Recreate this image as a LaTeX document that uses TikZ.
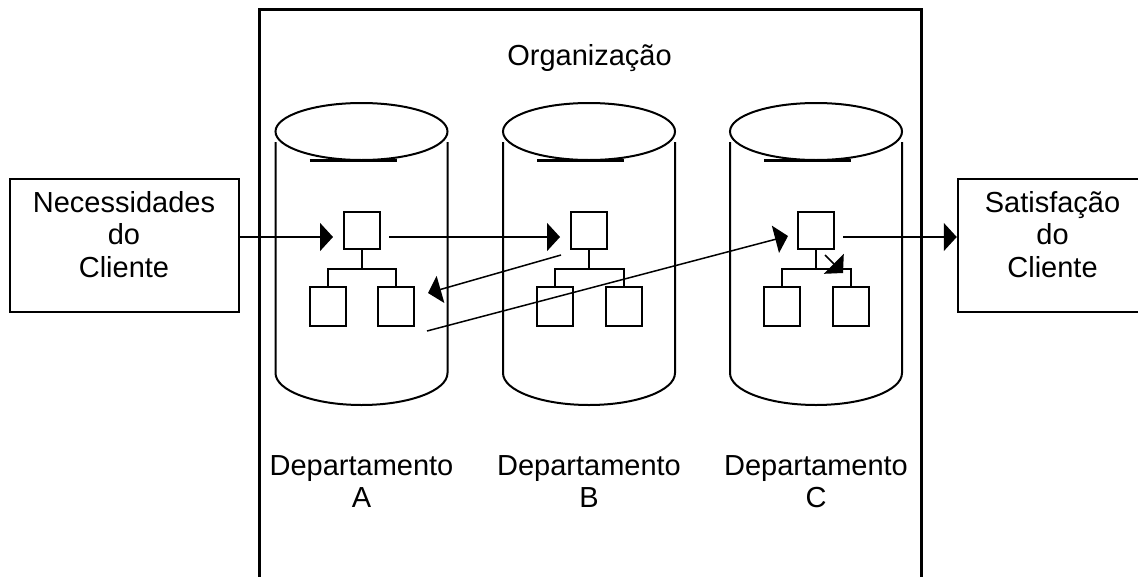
\documentclass[tikz,border=0pt]{standalone}
\usepackage{fontspec}
\setmainfont{Liberation Sans}
\usetikzlibrary{arrows.meta,calc}
\begin{document}
\begin{tikzpicture}[x=1pt,y=-1pt,
  lbl/.style={anchor=base,inner sep=0pt,font=\fontsize{29}{32.5}\selectfont},
  bigbox/.style={draw,line width=2.5pt,minimum width=229pt,minimum height=133pt,inner sep=0pt},
  orgbox/.style={draw,line width=3pt,minimum width=662pt,minimum height=600pt,anchor=north west,inner sep=0pt},
  cyl/.style={line width=2pt},
  cylmark/.style={line width=3pt},
  unit/.style={draw,line width=2pt,minimum width=36pt,minimum height=37pt,inner sep=0pt},
  subunit/.style={draw,line width=2pt,minimum width=36pt,minimum height=39pt,inner sep=0pt},
  tree/.style={line width=2pt},
  conn/.style={line width=1.5pt,-{Triangle[length=13pt,width=28pt]}},
  plain/.style={line width=1.5pt}
]
\useasboundingbox (0,0) rectangle (1138,576);
\clip (0,0) rectangle (1138,576);
\fill[white] (0,0) rectangle (1138,576);

% organisation frame
\node[orgbox] (org) at (258,8) {};
\node[lbl] (orgt) at (589.5,65) {Organização};

% outside boxes
\node[bigbox] (nec) at (124.5,245.5) {};
\node[lbl] (nec1) at (124,212) {Necessidades};
\node[lbl] (nec2) at (124,244.5) {do};
\node[lbl] (nec3) at (124,277) {Cliente};

\node[bigbox,minimum width=190pt] (sat) at (1053,245.5) {};
\node[lbl] (sat1) at (1052.5,212) {Satisfação};
\node[lbl] (sat2) at (1052.5,244.5) {do};
\node[lbl] (sat3) at (1052.5,277) {Cliente};

% cylinders and org charts
\foreach \cx/\n/\L in {361.5/A/A,589/B/B,816/C/C}{
  \draw[cyl] (\cx,131.5) ellipse [x radius=86pt,y radius=28.5pt];
  \draw[cyl] (\cx-86,142) -- (\cx-86,373)
     arc[start angle=180,end angle=360,x radius=86pt,y radius=32pt]
     -- (\cx+86,142);
  \draw[cylmark] (\cx-52,160) -- (\cx+35,160);
  \node[unit] (top\n) at (\cx,230.5) {};
  \node[subunit] (l\n) at (\cx-34,306.5) {};
  \node[subunit] (r\n) at (\cx+34.5,306.5) {};
  \draw[tree] (top\n.south) -- ++(0,19) -| (l\n.north);
  \draw[tree] (top\n.south) -- ++(0,19) -| (r\n.north);
  \node[lbl] (dep\n) at (\cx,475) {Departamento};
  \node[lbl] (let\n) at (\cx,507) {\L};
}

% connector end points
\coordinate (n2a) at (333,237);
\coordinate (a2bS) at (389,237);
\coordinate (a2bE) at (560,237);
\coordinate (b2aS) at (561,255);
\coordinate (b2aE) at (428,293);
\coordinate (a2cS) at (427,331);
\coordinate (a2cE) at (788,236);
\coordinate (cinS) at (825,255);
\coordinate (cinE) at (843,273);
\coordinate (c2sS) at (843,237);

\draw[conn] (nec.east |- n2a) -- (n2a);
\draw[conn] (a2bS) -- (a2bE);
\draw[conn] (b2aS) -- (b2aE);
\draw[conn] (a2cS) -- (a2cE);
\draw[conn] (cinS) -- (cinE);
\draw[conn] (c2sS) -- (sat.west |- c2sS);
\end{tikzpicture}
\end{document}
